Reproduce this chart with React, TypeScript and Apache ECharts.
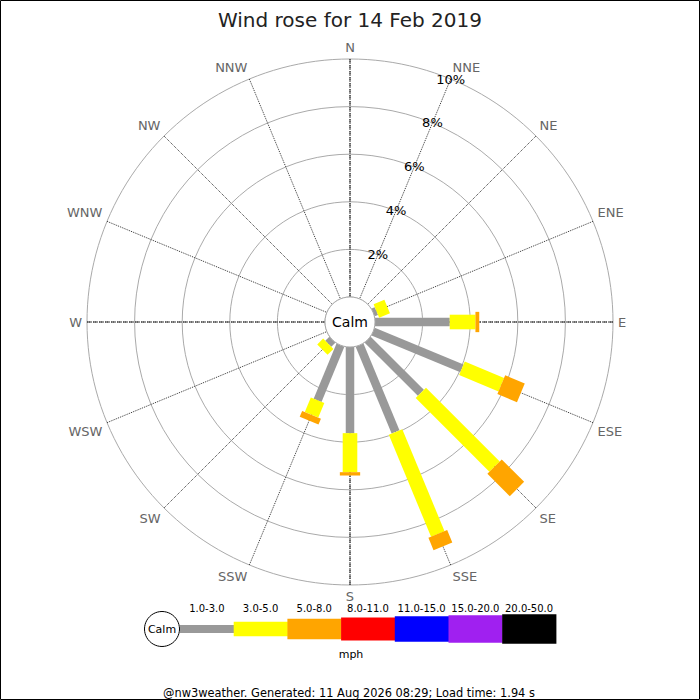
import { useEffect, useRef } from "react";
import * as echarts from "echarts";

const directions = ["N", "NNE", "NE", "ENE", "E", "ESE", "SE", "SSE", "S", "SSW", "SW", "WSW", "W", "WNW", "NW", "NNW"];

// frequency (%) per direction for each speed band, mph
const band1to3 = [0, 0, 0, 0.15, 3.14, 4.04, 3.16, 3.95, 3.62, 2.51, 0.24, 0, 0, 0, 0, 0];
const band3to5 = [0, 0, 0, 0.49, 1.08, 1.79, 4.38, 4.64, 1.64, 0.66, 0.35, 0, 0, 0, 0, 0];
const band5to8 = [0, 0, 0, 0, 0.16, 0.89, 1.33, 0.56, 0.14, 0.27, 0, 0, 0, 0, 0, 0];

const bandLabels = ["1.0-3.0", "3.0-5.0", "5.0-8.0", "8.0-11.0", "11.0-15.0", "15.0-20.0", "20.0-50.0"];
const bandColors = ["#999999", "#ffff00", "#ffa500", "#ff0000", "#0000ff", "#a020f0", "#000000"];
const bandWidths = [8.5, 14.6, 20.3, 23, 25.4, 27.4, 29.4];

const radiusTicks = [0, 2, 4, 6, 8, 10];

const FONT = "DejaVu Sans";
const CX = 350;
const CY = 322;

const angleOf = (i: number) => (i === 0 ? 360 : i * 22.5);

const App = () => {
  const chartRef = useRef<HTMLDivElement>(null);

  useEffect(() => {
    document.body.style.margin = "0";
    if (!chartRef.current) return;
    const chart = echarts.init(chartRef.current, null, { renderer: "svg" });

    const bands = [band1to3, band3to5, band5to8];
    const cumul = directions.map(() => 0);
    const series = bands.map((band, b) => {
      const data = band.map((v, i) => {
        const start = cumul[i];
        cumul[i] += v;
        return [cumul[i], angleOf(i), start];
      });
      return {
        type: "custom",
        name: bandLabels[b],
        coordinateSystem: "polar",
        polarIndex: 0,
        z: 10,
        data: data.filter((d) => d[0] > d[2]),
        renderItem: (params: any, api: any) => {
          const end = api.value(0);
          const ang = api.value(1);
          const start = api.value(2);
          const p0 = api.coord([start, ang]);
          const p1 = api.coord([end, ang]);
          const cs = params.coordSys;
          let dx = p1[0] - cs.cx;
          let dy = p1[1] - cs.cy;
          const len = Math.sqrt(dx * dx + dy * dy) || 1;
          dx /= len;
          dy /= len;
          const hw = bandWidths[b] / 2;
          const nx = -dy * hw;
          const ny = dx * hw;
          return {
            type: "polygon",
            shape: {
              points: [
                [p0[0] + nx, p0[1] + ny],
                [p1[0] + nx, p1[1] + ny],
                [p1[0] - nx, p1[1] - ny],
                [p0[0] - nx, p0[1] - ny],
              ],
            },
            style: { fill: bandColors[b] },
          };
        },
      };
    });

    const legendGraphics: any[] = [];
    const segW = 53.7;
    const legX = 180;
    const legY = 629;
    bandLabels.forEach((lab, i) => {
      const x = legX + i * segW;
      const h = i === 0 ? 8 : bandWidths[i];
      legendGraphics.push({
        type: "rect",
        shape: { x, y: legY - h / 2, width: segW + 0.5, height: h },
        style: { fill: bandColors[i] },
      });
      legendGraphics.push({
        type: "text",
        x: x + segW / 2,
        y: 608,
        style: { text: lab, fontSize: 10, fontFamily: FONT, fill: "#000", align: "center", verticalAlign: "middle" },
      });
    });

    chart.setOption({
      animation: false,
      backgroundColor: "#fff",
      title: {
        text: "Wind rose for 14 Feb 2019",
        left: "center",
        top: 5,
        textStyle: { fontSize: 20, fontWeight: "normal", color: "#222", fontFamily: FONT },
      },
      polar: [
        { center: [CX, CY], radius: [25, 263] },
        { center: [CX, CY], radius: [25, 263] },
      ],
      angleAxis: [
        {
          polarIndex: 0,
          type: "value",
          min: 22.5,
          max: 382.5,
          interval: 22.5,
          startAngle: 67.5,
          clockwise: true,
          axisLine: { show: false },
          axisTick: { show: false },
          axisLabel: {
            margin: 5,
            color: "#666",
            fontSize: 13,
            fontFamily: FONT,
            formatter: (v: number) => directions[Math.round((v % 360) / 22.5) % 16],
          },
          splitLine: { show: true, lineStyle: { color: "#333", type: "dotted", width: 1 } },
        },
        {
          // compass cardinal lines drawn dashed on top
          polarIndex: 1,
          type: "value",
          min: 0,
          max: 360,
          interval: 90,
          startAngle: 90,
          clockwise: true,
          axisLine: { show: false },
          axisTick: { show: false },
          axisLabel: { show: false },
          splitLine: { show: true, lineStyle: { color: "#333", type: [4, 2], width: 1 } },
        },
      ],
      radiusAxis: [
        {
          polarIndex: 0,
          type: "value",
          min: radiusTicks[0],
          max: radiusTicks[radiusTicks.length - 1],
          interval: radiusTicks[1] - radiusTicks[0],
          axisLine: { show: false },
          axisTick: { show: false },
          axisLabel: {
            showMinLabel: false,
            margin: 0,
            align: "center",
            verticalAlign: "middle",
            color: "#000",
            fontSize: 13,
            fontFamily: FONT,
            formatter: "{value}%",
          },
          splitLine: { show: true, showMinLine: false, lineStyle: { color: "#aaa", width: 1 } },
        },
        {
          polarIndex: 1,
          type: "value",
          min: 0,
          max: 10,
          axisLine: { show: false },
          axisTick: { show: false },
          axisLabel: { show: false },
          splitLine: { show: false },
        },
      ],
      series,
      graphic: [
        {
          type: "circle",
          z: 100,
          shape: { cx: CX, cy: CY, r: 25 },
          style: { fill: "#fff", stroke: "#aaa", lineWidth: 1 },
        },
        {
          type: "text",
          z: 101,
          x: CX,
          y: CY,
          style: { text: "Calm", fontSize: 14, fontFamily: FONT, fill: "#000", align: "center", verticalAlign: "middle" },
        },
        {
          type: "circle",
          z: 100,
          shape: { cx: 162, cy: legY, r: 17.5 },
          style: { fill: "#fff", stroke: "#000", lineWidth: 1 },
        },
        {
          type: "text",
          z: 101,
          x: 162,
          y: legY,
          style: { text: "Calm", fontSize: 11, fontFamily: FONT, fill: "#000", align: "center", verticalAlign: "middle" },
        },
        ...legendGraphics,
        {
          type: "text",
          x: 351,
          y: 654,
          style: { text: "mph", fontSize: 11, fontFamily: FONT, fill: "#000", align: "center", verticalAlign: "middle" },
        },
        {
          type: "text",
          x: 349,
          y: 693,
          style: {
            text: "@nw3weather. Generated: 11 Aug 2026 08:29; Load time: 1.94 s",
            fontSize: 11.4,
            fontFamily: FONT,
            fill: "#000",
            align: "center",
            verticalAlign: "middle",
          },
        },
        {
          type: "rect",
          z: 200,
          shape: { x: 0.5, y: 0.5, width: 699, height: 699 },
          style: { fill: "none", stroke: "#000", lineWidth: 1 },
        },
      ],
    });

    return () => {
      chart.dispose();
    };
  }, []);

  return <div ref={chartRef} style={{ width: "700px", height: "700px" }}></div>;
};

export default App;
